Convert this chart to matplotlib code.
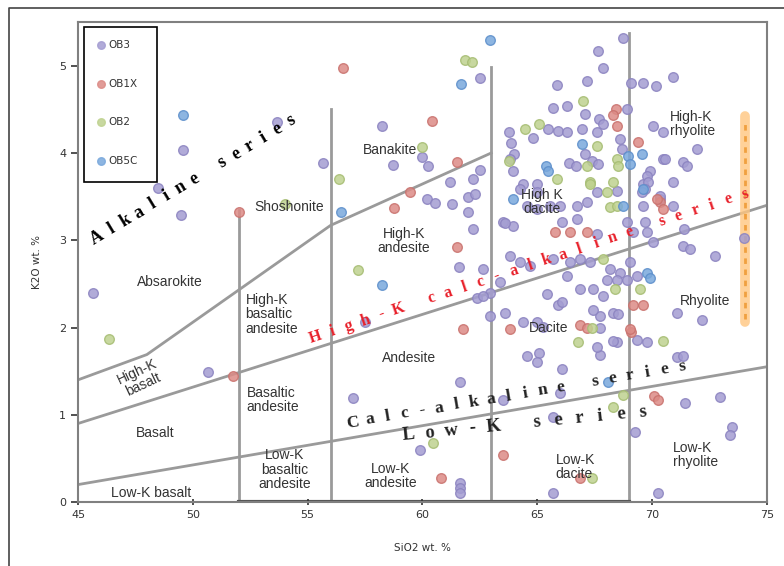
import numpy as np
import matplotlib
matplotlib.use("Agg")
import matplotlib.pyplot as plt
from matplotlib.lines import Line2D
from matplotlib.patches import Rectangle

# sample points (SiO2, K2O)
ob3_x = [58.22, 49.57, 55.67, 58.7, 48.48, 49.48, 53.66, 45.66, 50.66, 56.97, 57.5,
         62.5, 59.98, 60.24, 62.5, 62.2, 61.2, 60.2, 60.54, 61.28, 62.0, 62.0, 62.2, 61.6,
         68.73, 67.64, 67.86, 65.85, 67.16, 69.07, 69.6, 70.16, 65.7, 66.3, 67.07, 68.9, 67.7,
         67.86, 67.6, 65.46, 65.9, 66.3, 63.76, 64.8, 66.94, 63.85, 68.6, 64.0, 66.4, 66.7,
         67.07, 67.38, 67.64, 63.94, 68.7, 69.9, 69.6, 70.47, 64.37, 64.98,
         70.9, 70.03, 70.47, 71.95, 70.55, 71.34, 71.51, 69.77, 69.81, 69.68, 69.55, 70.9,
         70.34, 70.9, 72.73, 71.34, 71.64, 71.4, 69.77, 70.03,
         62.28, 64.24, 64.98, 64.55, 64.98, 65.55, 65.98, 66.72, 67.16, 67.6, 68.47, 69.6,
         70.34, 63.5, 63.94, 66.1, 66.72, 67.6, 68.9, 69.16, 69.68, 63.8, 64.24, 64.68, 65.68,
         66.42, 66.85, 67.29, 68.16, 68.6, 69.03, 69.33, 68.03, 68.47, 68.9, 66.3, 65.42, 65.9,
         66.85, 67.42, 67.86, 68.29, 67.73, 67.42, 63.59, 64.37, 64.98, 67.73, 69.33, 69.77,
         68.47, 62.94, 62.94, 62.37, 62.63,
         61.63, 59.9, 61.63, 61.63, 61.63, 66.1, 65.24, 64.55, 65.1, 64.98, 66.07, 67.73, 67.6,
         68.29, 68.5, 71.1, 71.34, 71.43, 72.95, 73.5, 73.38, 69.25, 65.98, 65.68, 63.5, 62.63,
         63.37, 70.25, 65.68, 72.2, 71.07, 74.03, 63.8, 63.59]
ob3_y = [4.31, 4.03, 3.88, 3.86, 3.60, 3.29, 4.35, 2.39, 1.49, 1.19, 2.06,
         4.86, 3.95, 3.85, 3.8, 3.7, 3.67, 3.47, 3.43, 3.41, 3.5, 3.32, 3.13, 2.69,
         5.32, 5.17, 4.97, 4.78, 4.83, 4.8, 4.8, 4.77, 4.52, 4.54, 4.45, 4.5, 4.39,
         4.33, 4.24, 4.28, 4.25, 4.24, 4.24, 4.17, 4.28, 4.11, 4.16, 3.99, 3.88, 3.85,
         3.99, 3.91, 3.87, 3.79, 4.05, 3.79, 3.64, 3.93, 3.64, 3.64,
         4.87, 4.31, 4.24, 4.05, 3.93, 3.9, 3.85, 3.74, 3.67, 3.59, 3.55, 3.67,
         3.47, 3.39, 2.82, 2.93, 2.9, 3.13, 3.09, 2.98,
         3.53, 3.59, 3.55, 3.39, 3.36, 3.39, 3.39, 3.39, 3.44, 3.55, 3.56, 3.39,
         3.51, 3.21, 3.16, 3.21, 3.24, 3.07, 3.21, 3.1, 3.21, 2.82, 2.75, 2.7, 2.78,
         2.75, 2.78, 2.75, 2.67, 2.63, 2.75, 2.59, 2.55, 2.55, 2.55, 2.59, 2.38, 2.26,
         2.44, 2.44, 2.36, 2.17, 2.13, 2.2, 2.17, 2.06, 2.06, 2.0, 1.86, 1.83,
         1.83, 2.13, 2.4, 2.34, 2.36,
         1.38, 0.6, 0.22, 0.16, 0.1, 2.29, 2.01, 1.67, 1.71, 1.61, 1.52, 1.69, 1.78,
         1.84, 2.15, 1.66, 1.67, 1.14, 1.2, 0.86, 0.77, 0.8, 1.25, 0.98, 1.17, 2.67,
         2.52, 0.1, 0.1, 2.09, 2.17, 3.03, 3.93, 3.2]

ob1x_x = [56.54, 52.0, 58.76, 51.75, 60.4, 61.5, 59.45, 61.5, 68.42, 68.29, 68.47, 69.38,
          70.34, 70.47, 65.77, 66.42, 67.16, 69.16, 69.6, 63.8, 66.85, 67.16, 69.1, 61.76,
          60.83, 70.1, 70.25, 63.5, 66.85, 69.03, 70.2]
ob1x_y = [4.97, 3.32, 3.37, 1.44, 4.37, 3.9, 3.55, 2.92, 4.5, 4.43, 4.31, 4.13,
          3.44, 3.36, 3.1, 3.09, 3.09, 2.26, 2.26, 1.98, 2.03, 2.0, 1.95, 1.98,
          0.28, 1.21, 1.17, 0.54, 0.28, 1.98, 3.47]

ob2_x = [54.0, 56.36, 57.2, 46.36, 61.85, 62.15, 60.0, 66.99, 64.46, 65.1, 67.6, 63.76,
         67.16, 68.47, 68.5, 65.85, 67.29, 68.29, 67.29, 68.03, 68.16, 68.47, 67.86, 68.38,
         69.47, 67.38, 66.77, 70.47, 60.46, 68.29, 68.73, 67.38]
ob2_y = [3.41, 3.70, 2.66, 1.87, 5.06, 5.04, 4.07, 4.6, 4.28, 4.33, 4.08, 3.91,
         3.85, 3.93, 3.85, 3.7, 3.67, 3.67, 3.64, 3.55, 3.38, 3.39, 2.78, 2.44,
         2.44, 2.0, 1.83, 1.84, 0.68, 1.09, 1.23, 0.28]

ob5c_x = [49.57, 56.45, 58.24, 62.94, 61.7, 66.94, 65.4, 65.46, 68.94, 69.03, 69.55,
          63.94, 68.73, 69.6, 69.77, 69.9, 68.07]
ob5c_y = [4.43, 3.32, 2.49, 5.29, 4.79, 4.1, 3.85, 3.79, 3.97, 3.87, 3.99,
          3.47, 3.39, 3.59, 2.63, 2.57, 1.37]

# classification boundaries
alk_x = [45, 48, 56, 63]
alk_y = [1.4, 1.69, 3.17, 4.0]
hk_x = [45, 75]
hk_y = [0.9, 3.4]
lk_x = [45, 75]
lk_y = [0.2, 1.55]
vert_x = [52, 56, 63, 69]
vert_top = [3.35, 4.5, 4.99, 5.38]

fields = [
    ("Absarokite", 49.0, 2.52, "center", 0),
    ("Shoshonite", 54.2, 3.38, "center", 0),
    ("Banakite", 58.6, 4.03, "center", 0),
    ("High-K\nbasalt", 47.7, 1.42, "center", 25),
    ("Basalt", 48.35, 0.79, "center", 0),
    ("Low-K basalt", 48.2, 0.1, "center", 0),
    ("High-K\nbasaltic\nandesite", 52.3, 2.15, "left", 0),
    ("Basaltic\nandesite", 52.35, 1.17, "left", 0),
    ("Low-K\nbasaltic\nandesite", 54.0, 0.37, "center", 0),
    ("High-K\nandesite", 59.2, 2.99, "center", 0),
    ("Andesite", 59.4, 1.65, "center", 0),
    ("Low-K\nandesite", 58.6, 0.3, "center", 0),
    ("High K\ndacite", 65.2, 3.44, "center", 0),
    ("Dacite", 65.5, 2.0, "center", 0),
    ("Low-K\ndacite", 65.8, 0.4, "left", 0),
    ("High-K\nrhyolite", 70.8, 4.33, "left", 0),
    ("Rhyolite", 71.2, 2.3, "left", 0),
    ("Low-K\nrhyolite", 70.9, 0.54, "left", 0),
]

# series names: text, start (x, y), end (x, y), colour, size
series = [
    ("Alkaline series", (45.85, 3.03), (54.3, 4.37), "black", 13),
    ("High-K calc-alkaline series", (55.35, 1.89), (74.05, 3.53), "#e8202a", 11.5),
    ("Calc-alkaline series", (56.95, 0.91), (71.3, 1.55), "#222222", 12.5),
    ("Low-K series", (59.4, 0.77), (69.6, 1.03), "#222222", 13.5),
]

legend_names = ["OB3", "OB1X", "OB2", "OB5C"]
legend_colors = ["#a49dd2", "#dc8b86", "#bfd28f", "#79a8dc"]

fig = plt.figure(figsize=(7.84, 5.66), dpi=100)
ax = fig.add_axes([0.0995, 0.113, 0.8785, 0.848])

# outer chart border
fig.add_artist(Line2D([9/784, 9/784, 1.0], [0.0, 1 - 8/566, 1 - 8/566],
                      transform=fig.transFigure, color="#444444", lw=1.2))

gray = "#9a9a9a"
ax.plot(alk_x, alk_y, color=gray, lw=2, zorder=1)
ax.plot(hk_x, hk_y, color=gray, lw=2, zorder=1)
ax.plot(lk_x, lk_y, color=gray, lw=2, zorder=1)
for vx, vt in zip(vert_x, vert_top):
    ax.plot([vx, vx], [0, vt], color=gray, lw=2, zorder=1)
ax.plot([52, 69], [0.0, 0.0], color="#555555", lw=3, zorder=1)

def pts(x, y, fc, ec):
    ax.scatter(x, y, s=48, c=fc, edgecolors=ec, linewidths=1.0, alpha=0.85, zorder=3)

pts(ob3_x, ob3_y, legend_colors[0], "#8b83c0")
pts(ob1x_x, ob1x_y, legend_colors[1], "#c9726e")
pts(ob2_x, ob2_y, legend_colors[2], "#a6bd73")
pts(ob5c_x, ob5c_y, legend_colors[3], "#5d8fcb")

# orange marker bar on the right
ax.plot([74.05, 74.05], [2.06, 4.42], color="#ffc680", lw=7, alpha=0.8,
        solid_capstyle="round", zorder=2)
ax.plot([74.05, 74.05], [2.1, 4.38], color="#f0a040", lw=2, ls=(0, (2, 2)), zorder=2)

for txt, x, y, ha, rot in fields:
    ax.text(x, y, txt, ha=ha, va="center", fontsize=10, color="#333333",
            family="Liberation Sans", rotation=rot, linespacing=1.05, zorder=4)

ax.set_xlim(45, 75)
ax.set_ylim(0, 5.5)

# spread letters evenly along the boundary direction
for txt, p0, p1, col, fs in series:
    d0 = ax.transData.transform(p0)
    d1 = ax.transData.transform(p1)
    ang = np.degrees(np.arctan2(d1[1] - d0[1], d1[0] - d0[0]))
    n = len(txt)
    for i, ch in enumerate(txt):
        if ch == " ":
            continue
        f = i / (n - 1)
        pos = ax.transData.inverted().transform(d0 + f * (d1 - d0))
        ax.text(pos[0], pos[1], ch, ha="center", va="center", fontsize=fs, color=col,
                family="Liberation Serif", weight="bold", rotation=ang, zorder=4)

ax.set_xticks(range(45, 76, 5))
ax.set_yticks(range(0, 6))
ax.tick_params(axis="both", labelsize=8, colors="#333333", length=5, width=1.2)
ax.tick_params(axis="x", direction="inout")
for sp in ax.spines.values():
    sp.set_color("#808080")
    sp.set_linewidth(1.5)

ax.set_xlabel("SiO2 wt. %", fontsize=7.5, color="#333333", labelpad=16)
ax.set_ylabel("K2O wt. %", fontsize=7.5, color="#333333", labelpad=12)

# legend box, drawn in axes fraction
def axf(px, py):
    return (px - 78) / 689, (502 - py) / 479

x0, y0 = axf(84, 183)
x1, y1 = axf(157, 28)
ax.add_patch(Rectangle((x0, y0), x1 - x0, y1 - y0, transform=ax.transAxes,
                       facecolor="white", edgecolor="black", lw=1.2, zorder=5))
for i, (name, col) in enumerate(zip(legend_names, legend_colors)):
    mx, my = axf(101, 46 + i * 38.5)
    tx, _ = axf(108, 0)
    ax.scatter([mx], [my], s=30, c=col, edgecolors=col, alpha=0.85,
               transform=ax.transAxes, zorder=6)
    ax.text(tx, my, name, transform=ax.transAxes, fontsize=7.5, color="#333333",
            va="center", ha="left", zorder=6)

plt.savefig("out.png", dpi=100)
